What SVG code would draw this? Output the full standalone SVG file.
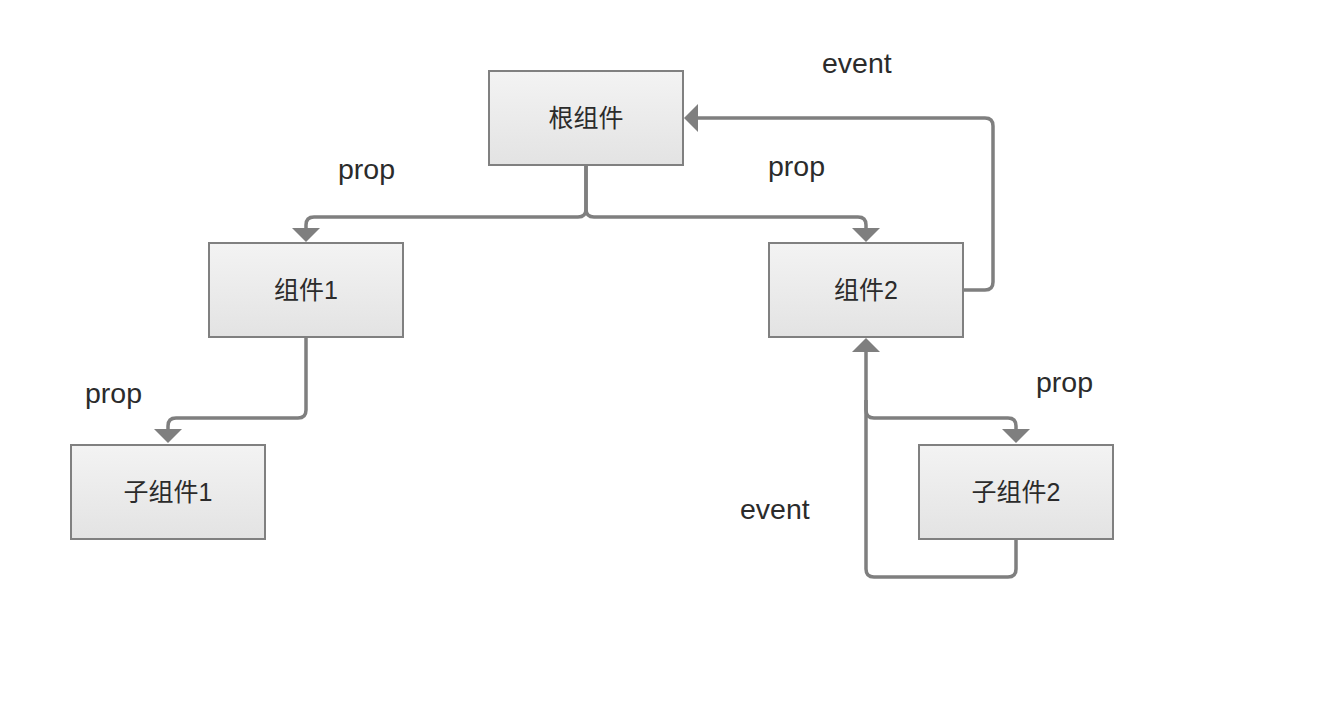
<svg xmlns="http://www.w3.org/2000/svg" width="1326" height="702" viewBox="0 0 1326 702">
<defs>
<linearGradient id="g" x1="0" y1="0" x2="0" y2="1">
<stop offset="0" stop-color="#f3f3f3"/>
<stop offset="1" stop-color="#e3e3e3"/>
</linearGradient>
<marker id="arr" markerUnits="userSpaceOnUse" markerWidth="16" markerHeight="30" viewBox="0 -15 16 30" refX="0" refY="0" orient="auto">
<path d="M0,-14 L14,0 L0,14 z" fill="#7f7f7f"/>
</marker>
<style>
.box{fill:url(#g);stroke:#808080;stroke-width:2}
.nt{font-family:"Liberation Sans","Noto Sans CJK SC",sans-serif;font-size:25px;fill:#2b2b2b;text-anchor:middle}
.lb{font-family:"Liberation Sans","Noto Sans CJK SC",sans-serif;font-size:28.5px;fill:#2b2b2b}
.c{fill:none;stroke:#7f7f7f;stroke-width:3.5;stroke-linejoin:round}
</style>
</defs>
<rect width="1326" height="702" fill="#fff"/>
<g id="connectors">
<path class="c" d="M586,165 L586,209 Q586,217 578,217 L314,217 Q306,217 306,225 L306,228" marker-end="url(#arr)"/>
<path class="c" d="M586,165 L586,209 Q586,217 594,217 L858,217 Q866,217 866,225 L866,228" marker-end="url(#arr)"/>
<path class="c" d="M963,290 L985,290 Q993,290 993,282 L993,126 Q993,118 985,118 L698,118" marker-end="url(#arr)"/>
<path class="c" d="M306,337 L306,410 Q306,418 298,418 L176,418 Q168,418 168,426 L168,429" marker-end="url(#arr)"/>
<path class="c" d="M866,400 L866,410 Q866,418 874,418 L1008,418 Q1016,418 1016,426 L1016,429" marker-end="url(#arr)"/>
<path class="c" d="M1016,539 L1016,569 Q1016,577 1008,577 L874,577 Q866,577 866,569 L866,352" marker-end="url(#arr)"/>
<text class="lb" x="338" y="179">prop</text>
<text class="lb" x="768" y="176">prop</text>
<text class="lb" x="822" y="73">event</text>
<text class="lb" x="85" y="403">prop</text>
<text class="lb" x="1036" y="392">prop</text>
<text class="lb" x="740" y="519">event</text>
</g>
<g id="root"><rect class="box" x="489" y="71" width="194" height="94"/><text class="nt" x="586" y="127">根组件</text></g>
<g id="comp1"><rect class="box" x="209" y="243" width="194" height="94"/><text class="nt" x="306" y="299">组件1</text></g>
<g id="comp2"><rect class="box" x="769" y="243" width="194" height="94"/><text class="nt" x="866" y="299">组件2</text></g>
<g id="child1"><rect class="box" x="71" y="445" width="194" height="94"/><text class="nt" x="168" y="501">子组件1</text></g>
<g id="child2"><rect class="box" x="919" y="445" width="194" height="94"/><text class="nt" x="1016" y="501">子组件2</text></g>
</svg>
